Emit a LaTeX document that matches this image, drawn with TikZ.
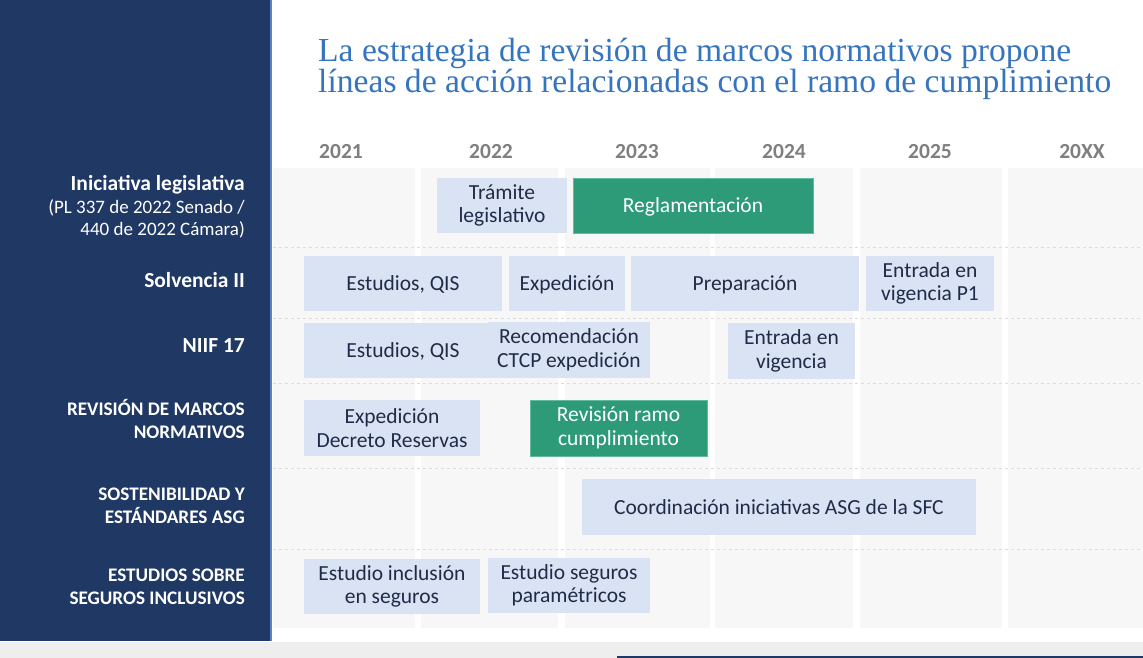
\documentclass[tikz,border=0pt]{standalone}
\usepackage{fontspec}
\setmainfont{Carlito}
\newfontfamily\titlefont{Liberation Serif}
\definecolor{navy}{HTML}{203864}
\definecolor{edgeblue}{HTML}{5B84C8}
\definecolor{titleblue}{HTML}{3574BE}
\definecolor{lightbox}{HTML}{DAE3F3}
\definecolor{boxtext}{HTML}{1F2B48}
\definecolor{greenbox}{HTML}{2E9B78}
\definecolor{greenedge}{HTML}{62BA9C}
\definecolor{gridbg}{HTML}{F7F7F7}
\definecolor{sepgrey}{HTML}{DCDCDC}
\definecolor{yeargrey}{HTML}{7F7F7F}
\definecolor{bandgrey}{HTML}{EEEEEE}
\tikzset{
  lbox/.style={fill=lightbox, draw=none, text=boxtext, align=center, inner sep=0pt,
    font=\fontsize{21.5}{23.5}\selectfont},
  gbox/.style={fill=greenbox, draw=greenedge, line width=0.8pt, text=white, align=center, inner sep=0pt,
    font=\fontsize{21.5}{23.5}\selectfont},
  oneline/.style={text depth=0pt},
  rowlab/.style={text=white, align=right, anchor=east, inner sep=0pt,
    font=\bfseries\fontsize{19.2}{23}\selectfont},
  yearlab/.style={text=yeargrey, inner sep=0pt, font=\bfseries\fontsize{21.5}{23}\selectfont},
  sep/.style={draw=sepgrey, dashed, line width=0.7pt},
}
\begin{document}
\begin{tikzpicture}[x=1pt,y=-1pt]
\useasboundingbox (0,0) rectangle (1143,658);
\fill[white] (0,0) rectangle (1143,658);
% bottom band
\fill[bandgrey] (0,642) rectangle (1143,658);
\fill[navy] (617,655.5) rectangle (1143,658);
% left panel
\fill[navy] (0,0) rectangle (270,641);
\fill[edgeblue] (270,0) rectangle (272,641);
% grid columns
\foreach \a/\b in {273/415,421/558,565/710,715/853,860/1002,1008/1143}
  \fill[gridbg] (\a,168) rectangle (\b,628);
% row separators
\foreach \y in {247,318,383,468,549}
  \draw[sep] (273,\y) -- (1143,\y);
% title
\node[anchor=west, text=titleblue, align=left, inner sep=0pt,
  font=\titlefont\fontsize{33.6}{30}\selectfont] (title) at (318,69)
  {La estrategia de revisión de marcos normativos propone\\líneas de acción relacionadas con el ramo de cumplimiento};
% years
\node[yearlab] (y2021) at (341,152) {2021};
\node[yearlab] (y2022) at (491,152) {2022};
\node[yearlab] (y2023) at (637,152) {2023};
\node[yearlab] (y2024) at (784,152) {2024};
\node[yearlab] (y2025) at (930,152) {2025};
\node[yearlab] (y20xx) at (1082,152) {20XX};
% row labels
\node[rowlab, font=\bfseries\fontsize{21.5}{23}\selectfont] (l1) at (245,185) {Iniciativa legislativa};
\node[rowlab, font=\fontsize{19}{22.5}\selectfont] (l1b) at (245,219) {(PL 337 de 2022 Senado /\\440 de 2022 Cámara)};
\node[rowlab, font=\bfseries\fontsize{21.5}{23}\selectfont] (l2) at (245,280) {Solvencia II};
\node[rowlab, font=\bfseries\fontsize{21.5}{23}\selectfont] (l3) at (245,346) {NIIF 17};
\node[rowlab] (l4) at (245,419) {REVISIÓN DE MARCOS\\NORMATIVOS};
\node[rowlab] (l5) at (245,505.5) {SOSTENIBILIDAD Y\\ESTÁNDARES ASG};
\node[rowlab] (l6) at (245,586.5) {ESTUDIOS SOBRE\\SEGUROS INCLUSIVOS};
% boxes
\node[lbox, minimum width=130pt, minimum height=55pt] (tram) at (502,205.5) {Trámite\\legislativo};
\node[gbox, oneline, minimum width=240pt, minimum height=55pt] (regl) at (693,205.5) {Reglamentación};
\node[lbox, oneline, minimum width=198pt, minimum height=55pt] (sest) at (403,283.5) {Estudios, QIS};
\node[lbox, oneline, minimum width=116pt, minimum height=55pt] (sexp) at (567,283.5) {Expedición};
\node[lbox, oneline, minimum width=228pt, minimum height=55pt] (sprep) at (745,283.5) {Preparación};
\node[lbox, minimum width=128pt, minimum height=55pt] (sent) at (930,283.5) {Entrada en\\vigencia P1};
\node[lbox, oneline, minimum width=198pt, minimum height=55pt] (nest) at (403,350.5) {Estudios, QIS};
\node[lbox, minimum width=162pt, minimum height=56pt] (nrec) at (569,350) {Recomendación\\CTCP expedición};
\node[lbox, minimum width=127pt, minimum height=56pt] (nent) at (791.5,351) {Entrada en\\vigencia};
\node[lbox, minimum width=176pt, minimum height=56pt] (rexp) at (392,428) {Expedición\\Decreto Reservas};
\node[gbox, minimum width=177pt, minimum height=56pt] (rrev) at (618.5,428) {Revisión ramo\\cumplimiento};
\node[lbox, oneline, minimum width=394pt, minimum height=56pt] (coord) at (779,507) {Coordinación iniciativas ASG de la SFC};
\node[lbox, minimum width=176pt, minimum height=55pt] (einc) at (392,586.5) {Estudio inclusión\\en seguros};
\node[lbox, minimum width=162pt, minimum height=55pt] (epar) at (569,585.5) {Estudio seguros\\paramétricos};
\end{tikzpicture}
\end{document}
